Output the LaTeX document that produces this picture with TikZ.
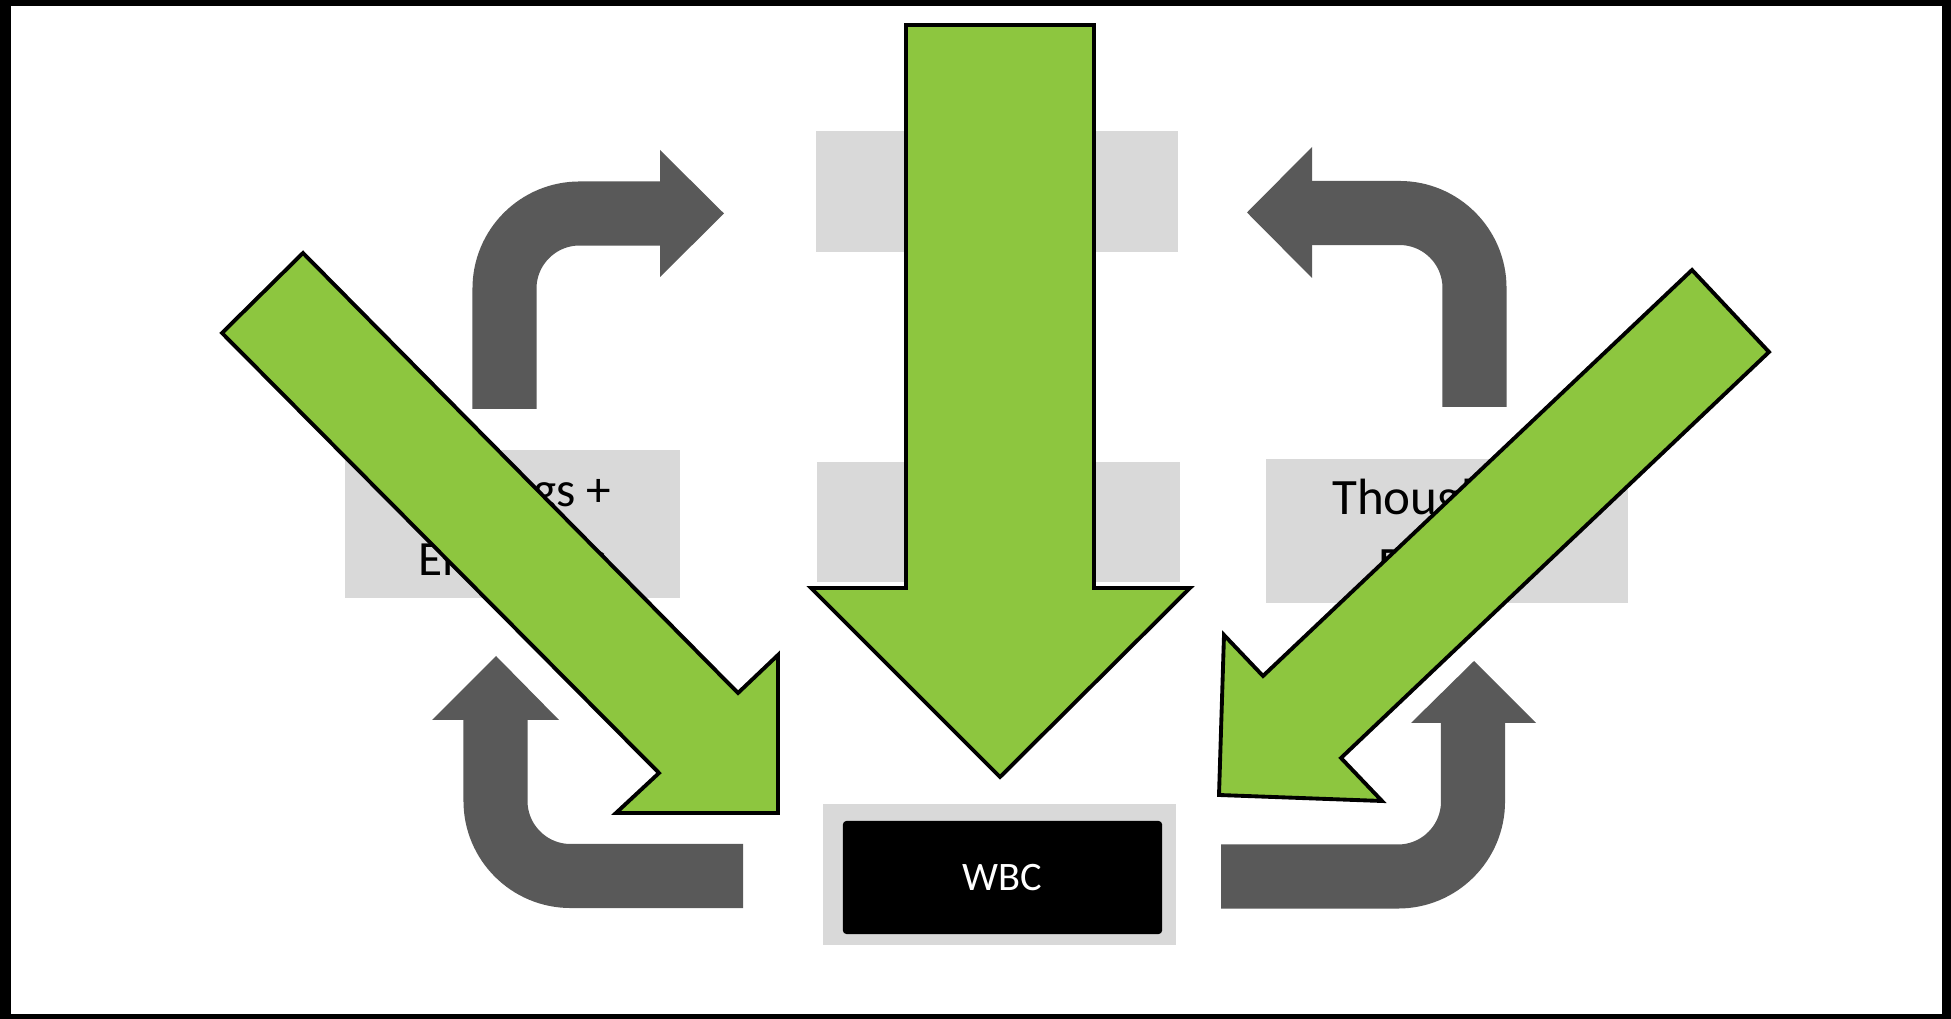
\documentclass[tikz,border=0pt]{standalone}
\usepackage{fontspec}
\setmainfont{Carlito}
\definecolor{leaf}{RGB}{141,198,63}
\definecolor{boxgray}{RGB}{217,217,217}
\definecolor{bentgray}{RGB}{89,89,89}
\begin{document}
\begin{tikzpicture}[x=0.01cm,y=-0.01cm,
  graybox/.style={fill=boxgray, draw=none, inner sep=0pt, align=center},
  bentshaft/.style={draw=bentgray, line width=0.64cm, rounded corners=0.75cm},
  benthead/.style={fill=bentgray},
  greenarrow/.style={fill=leaf, draw=black, line width=1.1pt, line join=miter}]
% frame
\fill[black] (0,0) rectangle (1951,1019);
\fill[white] (11,6) rectangle (1942,1014);
% gray boxes
\node[graybox, minimum width=3.62cm, minimum height=1.21cm] (topbox) at (997,191.5) {};
\node[graybox, minimum width=3.63cm, minimum height=1.20cm] (midbox) at (998.5,522) {};
\node[graybox, minimum width=3.35cm, minimum height=1.48cm, font=\fontsize{14}{19.6}\selectfont] (feel) at (512.5,524) {Feelings +\\Emotions};
\node[graybox, minimum width=3.62cm, minimum height=1.44cm, font=\fontsize{14.5}{19.3}\selectfont] (thought) at (1447,531) {Thoughts +\\Beliefs};
\node[fill=boxgray, inner sep=0pt, minimum width=3.53cm, minimum height=1.41cm] (wbcbg) at (999.5,874.5) {};
\node[fill=black, rounded corners=1pt, text=white, inner sep=0pt, minimum width=3.19cm, minimum height=1.13cm, font=\fontsize{11.5}{13}\selectfont] (wbc) at (1002.5,877.5) {WBC};
% bent gray arrows
\draw[bentshaft] (504.5,409) -- (504.5,213.5) -- (661,213.5);
\fill[benthead] (660,150) -- (724,213.5) -- (660,277) -- cycle;
\draw[bentshaft] (1474.5,407) -- (1474.5,213) -- (1311,213);
\fill[benthead] (1312,147) -- (1247,212.5) -- (1312,278) -- cycle;
\draw[bentshaft] (743,876) -- (495.5,876) -- (495.5,719);
\fill[benthead] (432,720) -- (496,656) -- (559,720) -- cycle;
\draw[bentshaft] (1221,876.5) -- (1473,876.5) -- (1473,722);
\fill[benthead] (1411,723) -- (1474,661) -- (1536,723) -- cycle;
% green arrows
\draw[greenarrow] (906,25) -- (1094,25) -- (1094,588) -- (1190,588) -- (1000,777) -- (811,588) -- (906,588) -- cycle;
\draw[greenarrow] (303,253) -- (738,693) -- (778,655) -- (778,813) -- (616,813) -- (659,773) -- (222,333) -- cycle;
\draw[greenarrow] (1692,270) -- (1769,352) -- (1341,758) -- (1382,801) -- (1219,795) -- (1224,635) -- (1263,676) -- cycle;
\end{tikzpicture}
\end{document}
